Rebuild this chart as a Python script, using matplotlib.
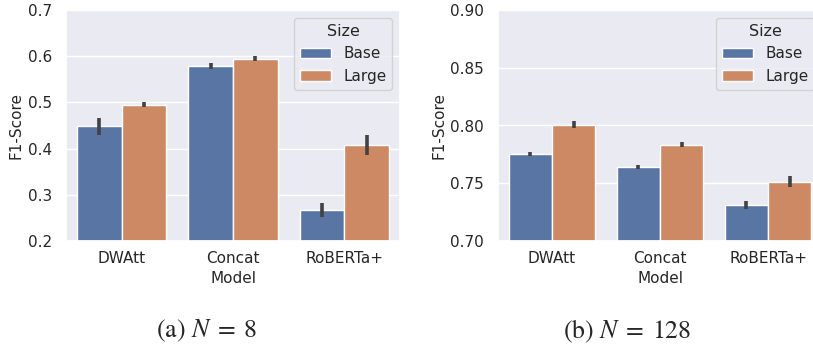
import numpy as np
import matplotlib
matplotlib.use("Agg")
import matplotlib.pyplot as plt
import seaborn as sns

sns.set_theme(style="darkgrid")
plt.rcParams['font.family'] = ['DejaVu Sans']
plt.rcParams['mathtext.fontset'] = 'stix'

models = ["DWAtt", "Concat", "RoBERTa+"]
sizes = ["Base", "Large"]

# N = 8
f1_n8_base = [0.448, 0.578, 0.268]
f1_n8_large = [0.495, 0.594, 0.408]
ci_n8_base = [(0.430, 0.467), (0.572, 0.585), (0.253, 0.282)]
ci_n8_large = [(0.490, 0.501), (0.589, 0.600), (0.386, 0.430)]

# N = 128
f1_n128_base = [0.775, 0.764, 0.731]
f1_n128_large = [0.800, 0.783, 0.751]
ci_n128_base = [(0.774, 0.777), (0.762, 0.766), (0.728, 0.735)]
ci_n128_large = [(0.798, 0.804), (0.781, 0.786), (0.747, 0.756)]

colors = ["#5975a4", "#cc8963"]

fig = plt.figure(figsize=(8.13, 3.46), dpi=100)
ax1 = fig.add_axes([66/813, 1-241/346, 334/813, 231/346])
ax2 = fig.add_axes([498/813, 1-241/346, 324/813, 231/346])


def draw(ax, base, large, ci_b, ci_l, ylim, yticks, fmt):
    x = np.arange(len(models))
    w = 0.4
    for vals, cis, off, col, lab in [(base, ci_b, -w/2, colors[0], sizes[0]),
                                     (large, ci_l, w/2, colors[1], sizes[1])]:
        ax.bar(x + off, np.array(vals) - ylim[0], w, bottom=ylim[0], color=col,
               edgecolor="white", linewidth=1, label=lab, zorder=2)
        lo = [c[0] for c in cis]
        hi = [c[1] for c in cis]
        ax.vlines(x + off, lo, hi, color="#424242", linewidth=2.6, zorder=3)
    ax.set_xlim(-0.5, 2.5)
    ax.set_ylim(*ylim)
    ax.set_yticks(yticks)
    ax.set_yticklabels([fmt.format(t) for t in yticks], fontsize=11)
    ax.set_xticks(x)
    ax.set_xticklabels(models, fontsize=11)
    ax.xaxis.grid(False)
    ax.set_ylabel("F1-Score", fontsize=11, labelpad=3)
    ax.set_xlabel("Model", fontsize=11, labelpad=4)
    ax.tick_params(axis="x", pad=1)
    ax.tick_params(axis="y", pad=4)
    ax.legend(title="Size", loc="upper right", fontsize=11,
              title_fontsize=11.5, borderaxespad=0.5)


draw(ax1, f1_n8_base, f1_n8_large, ci_n8_base, ci_n8_large,
     (0.2, 0.7), [0.2, 0.3, 0.4, 0.5, 0.6, 0.7], "{:.1f}")
draw(ax2, f1_n128_base, f1_n128_large, ci_n128_base, ci_n128_large,
     (0.70, 0.90), [0.70, 0.75, 0.80, 0.85, 0.90], "{:.2f}")

fig.text(207/813, 1-331/346, r"(a) $N\;=\;8$", ha="center", va="center",
         fontsize=18.5, family="STIXGeneral")
fig.text(627/813, 1-331/346, r"(b) $N\;=\;128$", ha="center", va="center",
         fontsize=18.5, family="STIXGeneral")

fig.savefig("out.png", dpi=100)
